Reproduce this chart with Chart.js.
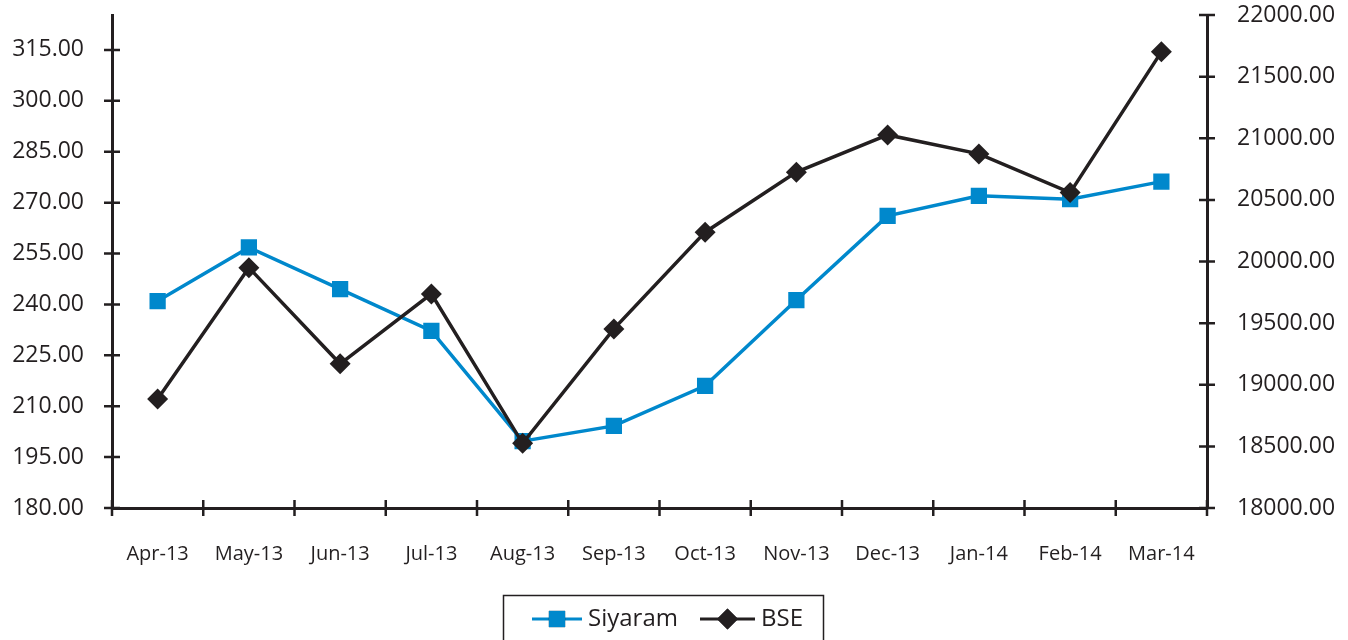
<!DOCTYPE html>
<html lang="en">
<head>
  <meta charset="UTF-8">
  <title>Siyaram vs BSE</title>
  <script src="https://cdn.jsdelivr.net/npm/chart.js"></script>
  <style>
    html, body { margin: 0; padding: 0; background: #fff; }
    #wrap { width: 1348px; height: 640px; }
  </style>
</head>
<body>
  <div id="wrap"><canvas id="chart" width="1348" height="640"></canvas></div>

  <script>
    const months = ['Apr-13', 'May-13', 'Jun-13', 'Jul-13', 'Aug-13', 'Sep-13',
                    'Oct-13', 'Nov-13', 'Dec-13', 'Jan-14', 'Feb-14', 'Mar-14'];
    const siyaram = [241.0, 256.8, 244.5, 232.2, 199.7, 204.2, 216.0, 241.3, 266.1, 272.0, 271.0, 276.2];
    const bse = [18885, 19950, 19170, 19737, 18525, 19453, 20238, 20725, 21027, 20873, 20559, 21701];
    const leftTicks = [180, 195, 210, 225, 240, 255, 270, 285, 300, 315];
    const rightTicks = [18000, 18500, 19000, 19500, 20000, 20500, 21000, 21500, 22000];

    const INK = '#231f20';
    const BLUE = '#0088cc';
    const FONT = '"Open Sans", "Liberation Sans", sans-serif';

    // crossing tick marks on all three axes
    const crossTicks = {
      id: 'crossTicks',
      afterDraw(chart) {
        const c = chart.ctx;
        const { x, y, y1 } = chart.scales;
        c.save();
        c.strokeStyle = INK;
        c.lineWidth = 2.5;
        c.beginPath();
        y.ticks.forEach((t, i) => {
          const p = y.getPixelForTick(i);
          c.moveTo(x.left - 8, p); c.lineTo(x.left + 8, p);
        });
        y1.ticks.forEach((t, i) => {
          const p = y1.getPixelForTick(i);
          c.moveTo(x.right - 8, p); c.lineTo(x.right + 8, p);
        });
        const n = months.length;
        for (let i = 0; i <= n; i++) {
          const px = x.left + i * (x.right - x.left) / n;
          c.moveTo(px, y.bottom - 8); c.lineTo(px, y.bottom + 8);
        }
        c.stroke();
        c.restore();
      }
    };

    // boxed legend with line+marker symbols
    const boxLegend = {
      id: 'boxLegend',
      afterDraw(chart) {
        const c = chart.ctx;
        c.save();
        c.strokeStyle = INK;
        c.lineWidth = 1.5;
        c.strokeRect(503.5, 595.5, 320, 60);
        const items = [
          { ds: chart.data.datasets[0], x0: 532, x1: 582 },
          { ds: chart.data.datasets[1], x0: 700, x1: 755 }
        ];
        const yc = 619;
        items.forEach(it => {
          c.strokeStyle = it.ds.borderColor;
          c.lineWidth = 3;
          c.beginPath(); c.moveTo(it.x0, yc); c.lineTo(it.x1, yc); c.stroke();
          Chart.helpers.drawPoint(c, {
            pointStyle: it.ds.pointStyle,
            radius: it.ds.pointRadius,
            borderWidth: 0
          }, (it.x0 + it.x1) / 2, yc);
          c.fillStyle = it.ds.pointBackgroundColor;
          c.fill();
          c.fillStyle = INK;
          c.font = '24px ' + FONT;
          c.textBaseline = 'middle';
          c.fillText(it.ds.label, it.x1 + 6, yc);
        });
        c.restore();
      }
    };

    new Chart(document.getElementById('chart'), {
      type: 'line',
      data: {
        labels: months,
        datasets: [{
          label: 'Siyaram',
          data: siyaram,
          yAxisID: 'y',
          borderColor: BLUE,
          backgroundColor: BLUE,
          pointBackgroundColor: BLUE,
          pointBorderWidth: 0,
          pointStyle: 'rect',
          pointRadius: 11.5,
          borderWidth: 3.5,
          order: 2
        }, {
          label: 'BSE',
          data: bse,
          yAxisID: 'y1',
          borderColor: INK,
          backgroundColor: INK,
          pointBackgroundColor: INK,
          pointBorderWidth: 0,
          pointStyle: 'rectRot',
          pointRadius: 10.5,
          borderWidth: 3.5,
          order: 1
        }]
      },
      options: {
        responsive: false,
        animation: false,
        layout: { padding: { top: 15, bottom: 0, left: 0, right: 0 } },
        plugins: { legend: { display: false }, tooltip: { enabled: false } },
        scales: {
          x: {
            offset: true,
            grid: { display: false },
            border: { display: true, color: INK, width: 3 },
            ticks: { color: INK, font: { family: FONT, size: 20 }, padding: 26, maxRotation: 0 },
            afterFit(s) { s.height = 132; s.paddingLeft = 0; s.paddingRight = 0; }
          },
          y: {
            position: 'left',
            min: 180, max: 325.3,
            afterBuildTicks(s) { s.ticks = leftTicks.map(v => ({ value: v })); },
            grid: { display: false },
            border: { display: true, color: INK, width: 3 },
            ticks: { color: INK, font: { family: FONT, size: 23 }, padding: 20,
                     callback: v => Number(v).toFixed(2) },
            afterFit(s) { s.width = 112; s.paddingTop = 0; s.paddingBottom = 0; }
          },
          y1: {
            position: 'right',
            min: 18000, max: 22000,
            afterBuildTicks(s) { s.ticks = rightTicks.map(v => ({ value: v })); },
            grid: { display: false },
            border: { display: true, color: INK, width: 3 },
            ticks: { color: INK, font: { family: FONT, size: 23 }, padding: 22,
                     callback: v => Number(v).toFixed(2) },
            afterFit(s) { s.width = 141; s.paddingTop = 0; s.paddingBottom = 0; }
          }
        }
      },
      plugins: [crossTicks, boxLegend]
    });
  </script>
</body>
</html>
